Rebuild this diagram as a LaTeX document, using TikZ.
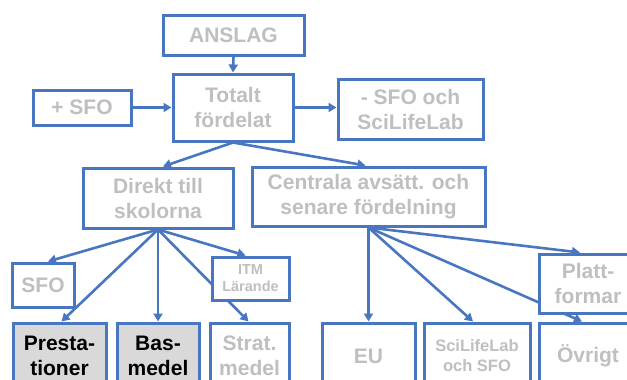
\documentclass[tikz,border=0pt]{standalone}
\usepackage{fontspec}
\setmainfont{Liberation Sans}
\usetikzlibrary{arrows.meta,backgrounds}
\definecolor{myblue}{RGB}{72,118,192}
\definecolor{mygray}{RGB}{191,191,191}
\definecolor{myfill}{RGB}{217,217,217}
\tikzset{
  box/.style={draw=myblue, line width=3pt, fill=white, text=mygray, align=center, inner sep=0pt,
    font=\fontsize{21}{25}\selectfont\bfseries},
  darkbox/.style={box, fill=myfill, text=black},
  smallbox/.style={box, font=\fontsize{14.5}{17}\selectfont\bfseries},
  conn/.style={draw=myblue, line width=2.6pt, -{Triangle[length=8pt,width=9pt]}},
}
\begin{document}
\begin{tikzpicture}[x=1pt,y=-1pt]
\useasboundingbox (0,0) rectangle (627,380);
\clip (0,0) rectangle (627,380);
\node[box, minimum width=141pt, minimum height=40pt] (ans) at (233.5,35) {ANSLAG};
\node[box, minimum width=120pt, minimum height=67pt] (tot) at (233,107.5) {Totalt\\fördelat};
\node[box, minimum width=98pt, minimum height=35pt] (plus) at (82,107.5) {+ SFO};
\node[box, minimum width=145pt, minimum height=60pt] (minus) at (410.5,109) {- SFO och\\SciLifeLab};
\node[box, minimum width=150pt, minimum height=60pt] (dir) at (158,198) {Direkt till\\skolorna};
\node[box, minimum width=233pt, minimum height=59pt] (cen) at (368.5,196.5) {Centrala avsätt. och\\senare fördelning};
\node[box, minimum width=62pt, minimum height=44pt] (sfo) at (43,285) {SFO};
\node[smallbox, minimum width=77pt, minimum height=43pt] (itm) at (250.5,278.5) {ITM\\Lärande};
\node[darkbox, minimum width=93pt, minimum height=66pt] (pre) at (59.5,356) {Presta-\\tioner};
\node[darkbox, minimum width=82pt, minimum height=66pt] (bas) at (158,356) {Bas-\\medel};
\node[box, minimum width=79pt, minimum height=66pt] (str) at (249.5,356) {Strat.\\medel};
\node[box, minimum width=93pt, minimum height=66pt] (eu) at (368.5,356) {EU};
\node[box, minimum width=106pt, minimum height=66pt, font=\fontsize{16.5}{20}\selectfont\bfseries] (sci) at (477,356) {SciLifeLab\\och SFO};
\node[box, minimum width=98pt, minimum height=59pt] (pla) at (588,283.5) {Platt-\\formar};
\node[box, minimum width=98pt, minimum height=66pt] (ovr) at (588,356) {Övrigt};
\begin{scope}[on background layer]
\draw[conn] (ans.south) -- (tot.north);
\draw[conn] (plus.east) -- (tot.west);
\draw[conn] (tot.east) -- (tot.east -| minus.west);
\draw[conn] (tot.south) -- ([xshift=5pt]dir.north);
\draw[conn] (tot.south) -- ([xshift=-3pt]cen.north);
\draw[conn] (dir.south) -- ([xshift=5pt]sfo.north);
\draw[conn] (dir.south) -- ([xshift=2pt]pre.north);
\draw[conn] (dir.south) -- (bas.north);
\draw[conn] (dir.south) -- ([xshift=-5pt]itm.north);
\draw[conn] (dir.south) -- ([xshift=-1pt]str.north);
\draw[conn] (cen.south) -- (eu.north);
\draw[conn] (cen.south) -- ([xshift=-4pt]sci.north);
\draw[conn] (cen.south) -- ([xshift=-8pt]pla.north);
\draw[conn] (cen.south) -- ([xshift=-6pt]ovr.north);
\end{scope}
\end{tikzpicture}
\end{document}
